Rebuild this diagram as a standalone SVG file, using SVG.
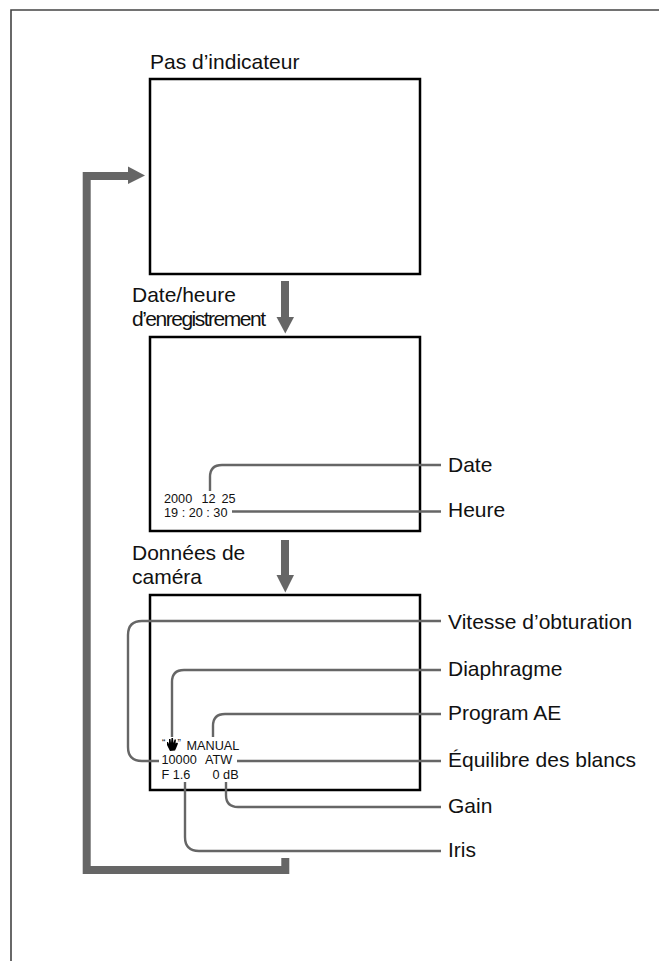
<svg xmlns="http://www.w3.org/2000/svg" width="659" height="961" viewBox="0 0 659 961">
<style>
text{font-family:"Liberation Sans",Arial,sans-serif;fill:#111}
.l{font-size:21px}
.s{font-size:12.7px}
.q{font-size:10px}
.screen{fill:#fff;stroke:#000;stroke-width:2.5}
.leader{fill:none;stroke:#666;stroke-width:2.4}
.thick{fill:none;stroke:#666;stroke-width:8}
.head{fill:#666}
</style>
<rect width="659" height="961" fill="#fff"/>
<path d="M11 961V10H659" fill="none" stroke="#444" stroke-width="1.6"/>
<g id="screen-1"><rect class="screen" x="150" y="79" width="270" height="195"/><text class="l" x="150" y="69">Pas d’indicateur</text></g>
<g id="screen-2"><rect class="screen" x="150" y="337" width="270" height="194"/><text class="l" x="132" y="302">Date/heure</text><text class="l" x="132" y="326" textLength="134" lengthAdjust="spacing">d’enregistrement</text>
<text class="s" x="164" y="503">2000<tspan x="201.5">12</tspan><tspan x="221.5">25</tspan></text><text class="s" x="164" y="517">19 : 20 : 30</text></g>
<g id="screen-3"><rect class="screen" x="150" y="595" width="270" height="195"/><text class="l" x="132" y="560">Données de</text><text class="l" x="132" y="584">caméra</text>
<text class="s" x="186.5" y="749.5">MANUAL</text><text class="s" x="161.5" y="764">10000<tspan x="205">ATW</tspan></text><text class="s" x="161.5" y="778.5">F 1.6</text><text class="s" x="212.5" y="778.5">0 dB</text>
<path d="M170 751l-3-6 0-3 1 0 1 2 0-5 1.500 0 .5 4 .5-5 1.500 0 .5 5 1-3.500 1.500 0-.5 4 1.500-1 1 1-2 5-1 2z" fill="#000"/><text class="q" x="162" y="747">“</text><text class="q" x="177.500" y="747">”</text></g>
<g id="connectors">
<path class="leader" d="M210 491V477Q210 465 222 465H441"/>
<path class="leader" d="M232 511.500H441"/>
<path class="leader" d="M159 761H142Q128 761 128 747V635Q128 621 142 621H441"/>
<path class="leader" d="M172 737V682Q172 670 184 670H441"/>
<path class="leader" d="M213 737V726Q213 714 225 714H441"/>
<path class="leader" d="M237 761H441"/>
<path class="leader" d="M226 782V795Q226 807 238 807H441"/>
<path class="leader" d="M185 782V837Q185 851 199 851H441"/>
<path class="thick" d="M285.300 858V870H86.700V176H129"/>
<path class="head" d="M128 166.500L145 175.500L128 184Z"/>
<path class="thick" d="M285 281V319"/>
<path class="head" d="M276.500 317H294L285.300 333.500Z"/>
<path class="thick" d="M285 540V577"/>
<path class="head" d="M276.500 575H294L285.300 592.500Z"/>
</g>
<g id="labels">
<text class="l" x="448" y="472">Date</text>
<text class="l" x="448" y="517">Heure</text>
<text class="l" x="448" y="628.500">Vitesse d’obturation</text>
<text class="l" x="448" y="676">Diaphragme</text>
<text class="l" x="448" y="720">Program AE</text>
<text class="l" x="448" y="767">Équilibre des blancs</text>
<text class="l" x="448" y="813">Gain</text>
<text class="l" x="448" y="857">Iris</text>
</g>
</svg>
